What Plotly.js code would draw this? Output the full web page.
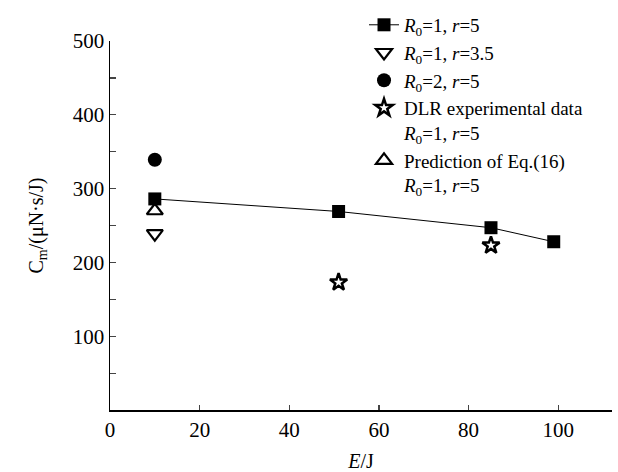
<!DOCTYPE html>
<html>
<head>
<meta charset="utf-8">
<script src="https://cdn.plot.ly/plotly-3.0.1.min.js"></script>
<style>html,body{margin:0;padding:0;background:#fff}#chart{width:618px;height:472px}</style>
</head>
<body>
<div id="chart"></div>
<script>
// Data
const energyR1r5 = [10, 51, 85, 99];
const cmR1r5 = [286, 269, 247, 228];
const energyR1r35 = [10];
const cmR1r35 = [239];
const energyR2r5 = [10];
const cmR2r5 = [339];
const energyDLR = [51, 85];
const cmDLR = [173, 223];
const energyPred = [10];
const cmPred = [270];
const yTickVals = [100, 200, 300, 400, 500];
const xTickVals = [0, 20, 40, 60, 80, 100];

const serif = "Liberation Serif, Times New Roman, serif";
const lbl = (R0, r) => "<i>R</i><sub>0</sub>=" + R0 + ", <i>r</i>=" + r;

const traces = [
  {x: energyR1r5, y: cmR1r5, mode: "lines+markers", name: lbl(1, 5),
   line: {color: "#000", width: 1}, marker: {symbol: "square", size: 13, color: "#000"}},
  {x: energyR1r35, y: cmR1r35, mode: "markers", name: lbl(1, "3.5"),
   marker: {symbol: "triangle-down-open", size: 14, color: "#000", line: {width: 2.2}}},
  {x: energyR2r5, y: cmR2r5, mode: "markers", name: lbl(2, 5),
   marker: {symbol: "circle", size: 14, color: "#000"}},
  {x: energyDLR, y: cmDLR, mode: "markers", name: "DLR experimental data<br>" + lbl(1, 5),
   marker: {symbol: "star-open", size: 13, color: "#000", line: {width: 2.5}}},
  {x: energyPred, y: cmPred, mode: "markers", name: "Prediction of Eq.(16)<br>" + lbl(1, 5),
   marker: {symbol: "triangle-up-open", size: 14, color: "#000", line: {width: 2.2}}}
];

const layout = {
  width: 618, height: 472,
  margin: {l: 110, r: 6, t: 38, b: 62},
  paper_bgcolor: "#fff", plot_bgcolor: "#fff",
  font: {family: serif, size: 20, color: "#000"},
  showlegend: true,
  legend: {x: 0.506, y: 1.095, xanchor: "left", yanchor: "top", bgcolor: "rgba(0,0,0,0)",
           font: {family: serif, size: 19, color: "#000"}, valign: "top", tracegroupgap: 0},
  xaxis: {range: [0, 112], tickvals: xTickVals, ticks: "inside", ticklen: 5, tickwidth: 1.2,
          showline: true, linecolor: "#000", linewidth: 1.5, showgrid: false, zeroline: false,
          title: {text: "<i>E</i>/J", font: {family: serif, size: 20}, standoff: 14},
          tickfont: {family: serif, size: 21}},
  yaxis: {range: [0, 500], tickvals: yTickVals, ticks: "inside", ticklen: 6, tickwidth: 1.2,
          minor: {dtick: 50, ticks: "inside", ticklen: 6, tickwidth: 1.2, showgrid: false},
          showline: true, linecolor: "#000", linewidth: 1.5, showgrid: false, zeroline: false,
          title: {text: "C<sub>m</sub>/(μN·s/J)", font: {family: serif, size: 20}, standoff: 24},
          tickfont: {family: serif, size: 21}}
};

Plotly.newPlot("chart", traces, layout, {displayModeBar: false, staticPlot: true});
</script>
</body>
</html>
